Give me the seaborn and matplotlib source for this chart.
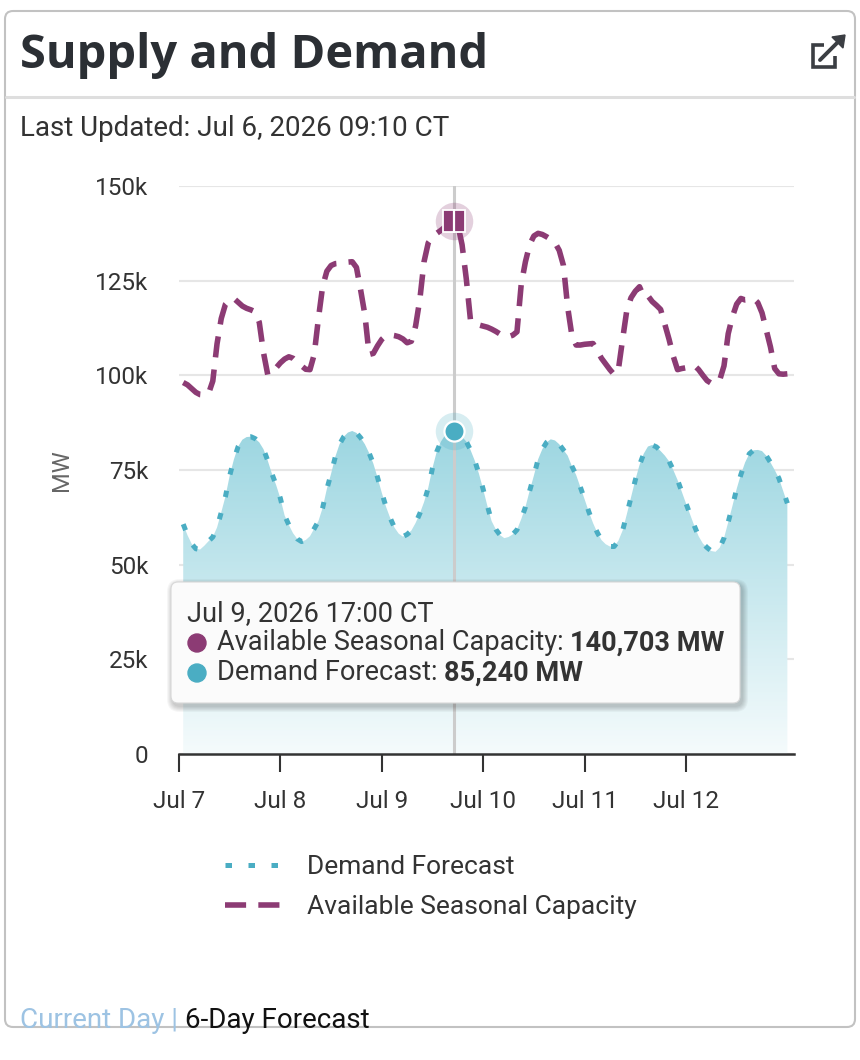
import numpy as np
import pandas as pd
import matplotlib
matplotlib.use('Agg')
import matplotlib.pyplot as plt
import seaborn as sns
from matplotlib.colors import LinearSegmentedColormap
from matplotlib.patches import FancyBboxPatch, Circle, Polygon

# hours after Jul 7 00:00 CT, hourly from Jul 7 01:00 to Jul 13 00:00
hours = list(range(1, 145))

# MW
demand = [
    # Jul 7 01:00 - 23:00
    60700, 57800, 55500, 54200, 54000, 55000, 56200, 57300, 59800, 63800, 68000, 73500,
    77800, 81200, 83000, 83700, 83800, 83300, 82300, 80500, 77500, 74000, 71000,
    # Jul 8
    67500, 63000, 60500, 58300, 56800, 56100, 56500, 57500, 59500, 61500, 65000, 70000,
    74000, 78500, 81800, 83800, 84900, 85300, 84800, 83500, 81800, 79500, 76700, 73000,
    # Jul 9
    69000, 65300, 62300, 59800, 58200, 57400, 58000, 59000, 61000, 63500, 66500, 70300,
    75500, 79800, 82500, 84200, 85000, 85240, 84800, 83800, 82500, 80300, 77500, 74000,
    # Jul 10
    69900, 65500, 61500, 59300, 57800, 57000, 57300, 58000, 59200, 62000, 65200, 69500,
    73500, 77800, 80500, 82300, 83100, 82800, 81800, 80300, 78800, 76000, 73700, 70500,
    # Jul 11
    67300, 64000, 61000, 58500, 56500, 55400, 54800, 54800, 56300, 59000, 63300, 67800,
    72300, 76300, 79300, 81200, 81600, 81100, 80000, 78800, 77300, 75000, 72400, 69300,
    # Jul 12
    66200, 63200, 60200, 57500, 55600, 54500, 53600, 53400, 54500, 57000, 61200, 65500,
    70000, 73800, 77000, 79300, 80200, 80300, 80000, 78800, 77000, 75000, 72800, 69500,
    # Jul 13 00:00
    66200,
]

capacity = [
    # Jul 7 01:00 - 23:00
    98100, 97500, 96500, 95500, 94900, 94800, 95200, 98500, 108300, 115000, 118800, 120000,
    120300, 119300, 118300, 117700, 117300, 116800, 114000, 106000, 100200, 100600, 102000,
    # Jul 8
    103300, 104300, 104900, 104500, 103500, 102500, 101600, 101500, 105500, 115000, 123500, 127500,
    129000, 129500, 129600, 129700, 129900, 130000, 128500, 122500, 116000, 105500, 105800, 107800,
    # Jul 9
    109500, 110500, 110700, 110500, 110200, 109600, 108600, 109000, 113000, 120000, 130000, 135000,
    136500, 137500, 138300, 139200, 140000, 140703, 139800, 134500, 125500, 114500, 113600, 113300,
    # Jul 10
    113000, 112700, 112200, 111600, 110900, 110300, 110200, 110600, 111500, 124000, 130000, 134500,
    136800, 137500, 137200, 136600, 135900, 135000, 133000, 129000, 118000, 110500, 108000, 108000,
    # Jul 11
    108200, 108300, 108400, 106500, 104500, 103000, 101500, 100200, 101500, 109500, 117200, 120500,
    122200, 123400, 120800, 121000, 119500, 118500, 117400, 113500, 109500, 105000, 101500, 101800,
    # Jul 12
    102000, 102300, 102600, 101500, 100000, 98600, 97900, 98000, 98800, 102500, 111000, 115500,
    118800, 120300, 119900, 120000, 120300, 119200, 116500, 112000, 107500, 101800, 100400, 100300,
    # Jul 13 00:00
    100400,
]

day_ticks = [0, 24, 48, 72, 96, 120]
day_labels = ['Jul 7', 'Jul 8', 'Jul 9', 'Jul 10', 'Jul 11', 'Jul 12']
mw_ticks = [0, 25000, 50000, 75000, 100000, 125000, 150000]
mw_labels = ['0', '25k', '50k', '75k', '100k', '125k', '150k']

hover_hour = 65
hover_time = 'Jul 9, 2026 17:00 CT'

df = pd.DataFrame({'hour': hours, 'demand': demand, 'capacity': capacity})

teal = '#4AADC3'
plum = '#8C3B74'
ink = '#333333'

sns.set_style('white')
plt.rcParams['font.family'] = ['Roboto', 'DejaVu Sans']

W, H = 860, 1060
fig = plt.figure(figsize=(8.6, 10.6), dpi=100)

# pixel canvas for the card around the chart
bg = fig.add_axes([0, 0, 1, 1], zorder=0)
bg.set_xlim(0, W)
bg.set_ylim(H, 0)
bg.axis('off')

bg.add_patch(FancyBboxPatch((5, 11), 850, 1016, boxstyle='round,pad=0,rounding_size=8',
                            fc='white', ec='#c2c2c2', lw=1.5))
bg.plot([6, 854], [97, 97], color='#dedede', lw=2.2)
bg.text(20, 68, 'Supply and Demand', fontsize=33.8, fontweight='bold', color='#2b2f34',
        va='baseline', family=['Open Sans', 'DejaVu Sans'])
bg.text(20, 129, 'Last Updated: Jul 6, 2026 09:10 CT', fontsize=20, color=ink, va='center')

# external link icon
bg.plot([824, 813, 813, 835, 835], [45, 45, 67, 67, 56], color='#3b3e43', lw=2.6,
        solid_joinstyle='miter', solid_capstyle='butt')
bg.plot([820, 838], [60, 42], color='#3b3e43', lw=2.8)
bg.add_patch(Polygon([(845, 35), (832, 37), (843, 48)], closed=True, color='#3b3e43'))

# footer
t_cur = bg.text(20, 1020, 'Current Day |', fontsize=20, color='#9DC3E3', va='center')
bg.annotate('6-Day Forecast', xy=(1, 0.5), xycoords=t_cur, xytext=(7, 0),
            textcoords='offset pixels', va='center', fontsize=20, color='#111111')

# chart
ax = fig.add_axes([179 / W, 1 - 754 / H, (793.7 - 179) / W, (754 - 186) / H], zorder=1)
ax.set_facecolor('none')

fill = ax.fill_between(df['hour'], df['demand'], 0, facecolor='none', edgecolor='none')
fade = LinearSegmentedColormap.from_list('fade', ['#F5FBFC', '#9CD6E1'])
grad = np.linspace(0, 1, 256).reshape(-1, 1)
img = ax.imshow(grad, cmap=fade, aspect='auto', origin='lower',
                extent=[hours[0], hours[-1], 0, max(demand)], zorder=1)
img.set_clip_path(fill.get_paths()[0], transform=ax.transData)

ax.axvline(hover_hour, color='#cccccc', lw=2.2, zorder=2)

sns.lineplot(data=df, x='hour', y='demand', ax=ax, color=teal, lw=3.6,
             linestyle=(0, (1.3, 3.3)), dash_capstyle='butt', label='Demand Forecast', zorder=4)
sns.lineplot(data=df, x='hour', y='capacity', ax=ax, color=plum, lw=4,
             linestyle=(0, (3.8, 2.2)), dash_capstyle='butt',
             label='Available Seasonal Capacity', zorder=4)

cap_hover = capacity[hours.index(hover_hour)]
dem_hover = demand[hours.index(hover_hour)]
ax.plot([hover_hour], [cap_hover], marker='o', ms=27, color=plum, alpha=0.24, mew=0, zorder=5)
ax.plot([hover_hour], [cap_hover], marker='s', ms=16, color=plum, mec='white', mew=1.3, zorder=6)
ax.plot([hover_hour], [cap_hover], marker='|', ms=17, color='white', mew=1.6, zorder=7)
ax.plot([hover_hour], [dem_hover], marker='o', ms=27, color=teal, alpha=0.22, mew=0, zorder=5)
ax.plot([hover_hour], [dem_hover], marker='o', ms=14.5, color=teal, mec='white', mew=1.6, zorder=6)

ax.set_xlim(0, 145.5)
ax.set_ylim(0, 150000)
ax.set_xticks(day_ticks)
ax.set_xticklabels(day_labels)
ax.set_yticks(mw_ticks)
ax.set_yticklabels(mw_labels)
ax.set_xlabel('')
ax.set_ylabel('MW', fontsize=17, color='#666666')
ax.yaxis.set_label_coords(-0.172, 0.5)

ax.yaxis.grid(True, color='#e6e6e6', lw=1.5)
ax.xaxis.grid(False)
ax.set_axisbelow(True)
for side in ['left', 'top', 'right']:
    ax.spines[side].set_visible(False)
ax.spines['bottom'].set_color(ink)
ax.spines['bottom'].set_linewidth(1.8)
ax.tick_params(axis='x', bottom=True, direction='out', length=13, width=1.5, color=ink,
               pad=13, labelsize=17.5, labelcolor=ink)
ax.tick_params(axis='y', left=False, length=0, pad=22, labelsize=17.5, labelcolor=ink)

handles, labels = ax.get_legend_handles_labels()
ax.legend(handles, labels, loc='upper left', bbox_to_anchor=(225 / W, 1 - 855 / H),
          bbox_transform=fig.transFigure, frameon=False, fontsize=19, handlelength=2.5,
          handletextpad=0.6, labelspacing=0.6, borderpad=0, borderaxespad=0,
          labelcolor=ink)

# tooltip
ov = fig.add_axes([0, 0, 1, 1], zorder=5)
ov.set_xlim(0, W)
ov.set_ylim(H, 0)
ov.axis('off')
for k in range(1, 7):
    ov.add_patch(FancyBboxPatch((171 - k + 2, 582 - k + 3), 569 + 2 * k, 121 + 2 * k,
                                boxstyle='round,pad=0,rounding_size=%d' % (7 + k),
                                fc='black', ec='none', alpha=0.035))
ov.add_patch(FancyBboxPatch((171, 582), 569, 121, boxstyle='round,pad=0,rounding_size=7',
                            fc='#fbfbfb', ec='#d8d8d8', lw=0.8))
ov.text(187, 614, hover_time, fontsize=19.5, color=ink, va='center')
ov.add_patch(Circle((197, 643), 9, color=plum))
t1 = ov.text(217, 643, 'Available Seasonal Capacity:', fontsize=19.5, color=ink, va='center')
ov.annotate(f'{cap_hover:,} MW', xy=(1, 0.5), xycoords=t1, xytext=(6, 0),
            textcoords='offset pixels', va='center', fontsize=19.5, fontweight='bold', color=ink)
ov.add_patch(Circle((197, 673), 9, color=teal))
t2 = ov.text(217, 673, 'Demand Forecast:', fontsize=19.5, color=ink, va='center')
ov.annotate(f'{dem_hover:,} MW', xy=(1, 0.5), xycoords=t2, xytext=(6, 0),
            textcoords='offset pixels', va='center', fontsize=19.5, fontweight='bold', color=ink)

fig.savefig('out.png', dpi=100)
